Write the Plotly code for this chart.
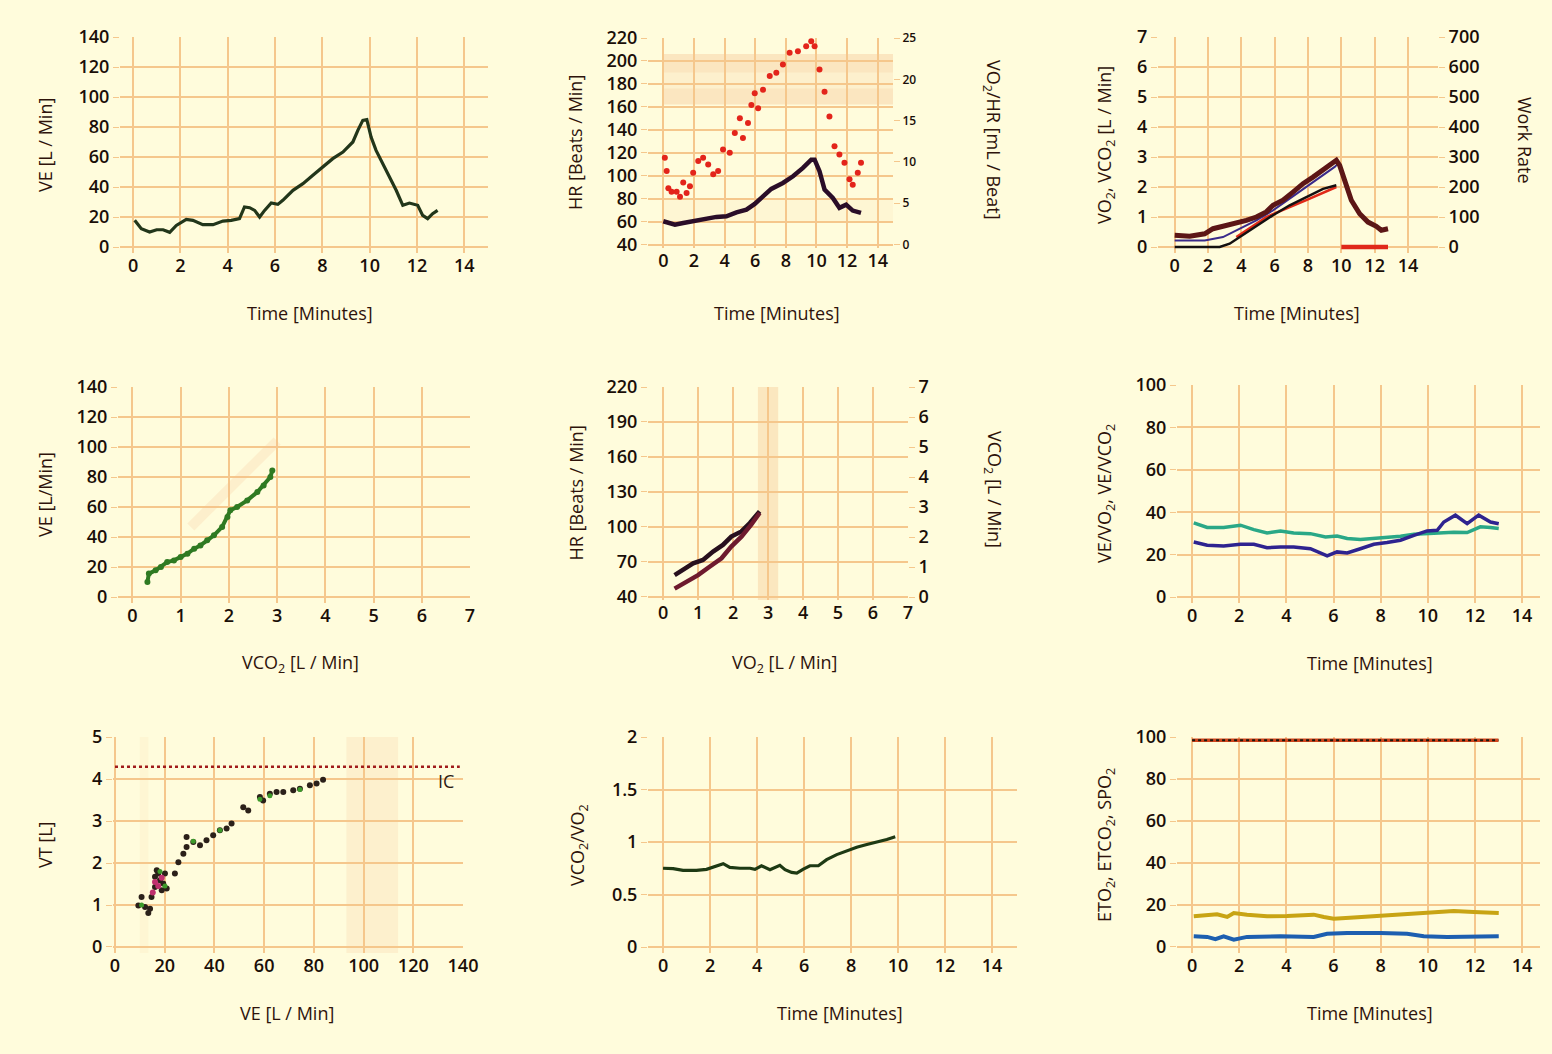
import plotly.graph_objects as go

W, H = 1552, 1054
BG = "#fffcdc"
GRID = "#f5c78c"
TICK = "#1a0e08"
TITLE = "#2e130b"
FONT = "Open Sans, Noto Sans, sans-serif"
TICK_SIZE = 18
TITLE_SIZE = 18

# ---------------- data ----------------
# Panel 1: VE vs time
ve_t = [0.07, 0.35, 0.7, 1.0, 1.27, 1.55, 1.83, 2.25, 2.53, 2.95, 3.38, 3.8, 4.15, 4.5, 4.71, 4.93, 5.14,
        5.35, 5.56, 5.84, 6.12, 6.33, 6.76, 7.18, 7.6, 8.02, 8.44, 8.87, 9.29, 9.5, 9.71, 9.88, 10.06,
        10.27, 10.55, 10.83, 11.12, 11.4, 11.68, 12.03, 12.24, 12.45, 12.66, 12.87]
ve_v = [17.8, 12.2, 10, 11.5, 11.5, 9.8, 14.4, 18.4, 17.8, 14.9, 14.9, 17.3, 17.8, 18.9, 26.7, 26.2, 24.4,
        20, 24.4, 29.3, 28.4, 31.1, 37.8, 42.2, 47.8, 53.3, 58.9, 63.3, 70, 77.8, 84.4, 84.9, 73.3,
        64.4, 55.6, 46.7, 37.8, 27.8, 29.3, 27.8, 21.1, 18.9, 22.2, 24.4]

# Panel 2: HR and VO2/HR vs time
hr_t = [0, 0.76, 1.3, 1.95, 2.6, 3.47, 4.12, 4.78, 5.43, 5.97, 6.51, 7.05, 7.81, 8.47, 9.12, 9.66, 9.88,
        10.2, 10.53, 11.07, 11.5, 11.94, 12.37, 12.91]
hr_v = [60.3, 57.4, 58.8, 60.3, 62.3, 64.1, 64.6, 68.1, 70.4, 75.4, 82, 88.5, 93.7, 99.5, 106.8, 114, 114,
        103.9, 88, 80.6, 72, 74.8, 69.6, 67.6]
o2p_t = [0.1, 0.22, 0.33, 0.54, 0.87, 1.09, 1.3, 1.52, 1.74, 1.95, 2.28, 2.6, 2.93, 3.26, 3.58, 3.9, 4.34,
         4.67, 5.0, 5.2, 5.53, 5.75, 5.97, 6.19, 6.51, 6.95, 7.38, 7.81, 8.25, 8.79, 9.33, 9.66, 9.88,
         10.2, 10.53, 10.85, 11.18, 11.5, 11.83, 12.16, 12.37, 12.7, 12.91]
o2p_v = [10.5, 8.9, 6.8, 6.4, 6.4, 5.8, 7.5, 6.25, 7.05, 8.7, 10.1, 10.5, 9.7, 8.5, 8.9, 11.5, 11.1,
         13.5, 15.3, 12.9, 14.7, 16.9, 18.3, 16.5, 18.75, 20.4, 20.8, 21.8, 23.2, 23.4, 24.0, 24.6, 24.0,
         21.2, 18.5, 15.5, 11.9, 10.9, 9.9, 7.9, 7.25, 8.7, 9.9]

# Panel 3: VO2, VCO2, work rate vs time
vo2_t = [0, 0.9, 1.8, 2.3, 2.9, 3.7, 4.3, 4.9, 5.5, 5.9, 6.5, 7.1, 7.7, 8.3, 8.9, 9.4, 9.7, 9.9, 10.2,
         10.6, 11.1, 11.6, 12.1, 12.4, 12.8]
vo2_v = [0.39, 0.36, 0.44, 0.61, 0.69, 0.78, 0.89, 1.0, 1.17, 1.39, 1.56, 1.83, 2.11, 2.33, 2.56, 2.78,
         2.89, 2.72, 2.22, 1.56, 1.11, 0.83, 0.69, 0.56, 0.61]
vco2_t = [0, 1.8, 2.9, 3.9, 4.9, 5.9, 6.9, 7.9, 8.9, 9.6, 9.8]
vco2_v = [0.22, 0.22, 0.33, 0.61, 0.89, 1.22, 1.61, 2.0, 2.39, 2.67, 2.78]
wr_t = [0, 2.7, 3.3, 3.9, 4.9, 5.9, 6.9, 7.9, 8.9, 9.7]
wr_v = [0, 0, 11, 33, 67, 106, 139, 167, 194, 206]
ref_t = [3.7, 5.5, 7.9, 9.7]
ref_v = [0.33, 1.0, 1.56, 2.0]
rec_t = [10.0, 12.8]
rec_v = [0, 0]

# Panel 4: VE vs VCO2
p4_vco2 = [0.31, 0.34, 0.48, 0.59, 0.72, 0.86, 1.0, 1.14, 1.28, 1.41, 1.55, 1.69, 1.86, 1.97, 2.03,
           2.17, 2.38, 2.59, 2.72, 2.86, 2.9]
p4_ve = [10, 15.6, 17.8, 20, 23.3, 24.4, 26.7, 28.9, 32.2, 34.4, 37.8, 41.1, 46.7, 53.3, 57.8,
         60, 64.4, 70, 74.4, 80, 84.4]
p4_ref_x = [1.21, 3.0]
p4_ref_y = [46.7, 104]

# Panel 5: HR and VCO2 vs VO2
p5_vo2 = [0.33, 0.57, 0.86, 1.14, 1.43, 1.71, 1.95, 2.24, 2.48, 2.76]
p5_hr = [58.7, 63, 68.8, 71.7, 78.9, 84.6, 91.8, 96.2, 103.4, 113.4]
p5_vo2b = [0.33, 0.67, 1.0, 1.33, 1.67, 1.95, 2.24, 2.52, 2.76]
p5_vco2 = [0.28, 0.5, 0.73, 1.01, 1.29, 1.68, 2.01, 2.41, 2.8]
p5_band = [2.71, 3.29]

# Panel 6: ventilatory equivalents vs time
veq_t1 = [0.07, 0.64, 1.34, 2.05, 2.62, 3.18, 3.75, 4.31, 5.02, 5.66, 6.15, 6.58, 7.14, 7.71, 8.27, 8.84,
          9.41, 9.97, 10.54, 11.1, 11.67, 12.23, 12.66, 13.01]
ve_vco2 = [35, 32.8, 32.8, 33.9, 31.8, 30.2, 31.2, 30.2, 29.9, 28.3, 28.8, 27.6, 27.1, 27.6, 27.9, 28.7,
           29.6, 29.9, 30.2, 30.6, 30.4, 33.1, 32.8, 32.3]
veq_t2 = [0.07, 0.64, 1.34, 2.05, 2.62, 3.18, 3.75, 4.31, 5.02, 5.45, 5.73, 6.15, 6.58, 7.14, 7.71, 8.27,
          8.84, 9.41, 9.97, 10.4, 10.68, 11.17, 11.67, 12.16, 12.66, 13.01]
ve_vo2 = [26, 24.4, 24.1, 24.9, 24.9, 23.3, 23.6, 23.6, 22.8, 20.5, 19.4, 21.3, 20.8, 22.8, 24.9, 25.7,
          26.8, 29.1, 31.2, 31.5, 35.4, 38.6, 34.6, 38.6, 35.4, 34.6]

# Panel 7: VT vs VE
vt_ve = [9.4, 10.7, 12.1, 13.4, 14.1, 14.7, 16.1, 16.1, 17.4, 18.1, 18.8, 19.4, 20.1, 20.8, 16.8, 24.1,
         25.5, 27.5, 28.8, 28.8, 31.5, 34.2, 36.8, 39.5, 42.2, 44.9, 46.9, 51.6, 53.6, 58.3, 59.6, 62.3,
         65, 67.7, 71.7, 74.4, 78.4, 81.1, 83.7]
vt_v = [0.99, 1.19, 0.95, 0.81, 0.91, 1.19, 1.43, 1.67, 1.75, 1.59, 1.35, 1.51, 1.75, 1.39, 1.83, 1.75,
        2.02, 2.22, 2.38, 2.62, 2.5, 2.42, 2.54, 2.66, 2.78, 2.82, 2.94, 3.33, 3.25, 3.57, 3.49, 3.65,
        3.69, 3.69, 3.73, 3.77, 3.85, 3.89, 3.98]
vt_green_ve = [10.7, 18.1, 20.1, 31.5, 42.2, 58.3, 62.3, 74.4]
vt_green_v = [1.0, 1.8, 1.45, 2.52, 2.78, 3.52, 3.6, 3.75]
vt_pink_ve = [16.1, 17.4, 18.8, 15.2]
vt_pink_v = [1.55, 1.45, 1.65, 1.3]
ic_value = 4.29
ic_span = [0, 138.7]
p7_band_a = [93.1, 113.9]
p7_band_b = [10.0, 13.4]

# Panel 8: RER vs time
rer_t = [0, 0.43, 0.85, 1.42, 1.85, 2.27, 2.56, 2.84, 3.27, 3.7, 3.91, 4.19, 4.55, 4.97, 5.19, 5.47, 5.69,
         5.97, 6.25, 6.61, 6.96, 7.39, 7.82, 8.24, 8.67, 9.1, 9.52, 9.88]
rer_v = [0.75, 0.746, 0.73, 0.73, 0.74, 0.774, 0.794, 0.758, 0.75, 0.75, 0.74, 0.774, 0.736, 0.778, 0.736,
         0.71, 0.704, 0.742, 0.774, 0.774, 0.832, 0.88, 0.918, 0.95, 0.976, 0.998, 1.024, 1.05]

# Panel 9: ETO2, ETCO2, SpO2 vs time
spo2_t = [0.0, 2.0, 4.0, 6.0, 8.0, 10.0, 12.0, 13.0]
spo2_v = [98.4, 98.4, 98.4, 98.4, 98.4, 98.4, 98.4, 98.4]
eto2_t = [0.07, 0.5, 1.06, 1.49, 1.77, 2.33, 3.18, 4.03, 5.16, 5.59, 6.01, 6.86, 7.71, 8.7, 9.97, 11.1,
          11.95, 13.01]
eto2_v = [14.6, 15.1, 15.6, 14.3, 16.2, 15.4, 14.6, 14.8, 15.4, 14.3, 13.5, 14, 14.6, 15.6, 16.2, 17.1,
          16.7, 16.2]
etco2_t = [0.07, 0.64, 0.99, 1.34, 1.77, 2.33, 3.75, 5.16, 5.73, 6.58, 7.99, 9.12, 9.83, 10.82, 13.01]
etco2_v = [5.1, 4.8, 3.7, 5.1, 3.5, 4.8, 5.1, 4.8, 6.3, 6.7, 6.7, 6.3, 5.1, 4.8, 5.1]

time_ticks = [0, 2, 4, 6, 8, 10, 12, 14]

# ---------------- layout helpers ----------------
layout = dict(width=W, height=H, margin=dict(l=0, r=0, t=0, b=0), paper_bgcolor=BG, plot_bgcolor=BG,
              showlegend=False, font=dict(family=FONT, size=TICK_SIZE, color=TICK))
annotations = []
shapes = []


def tfont(size=TICK_SIZE):
    return dict(size=size, color=TICK, family=FONT, weight=600)


def add_panel(n, xpx, ypx, xr, yr, xt, yt, xtitle, ytitle, tx, ty, yx):
    sfx = "" if n == 1 else str(n)
    layout["xaxis" + sfx] = dict(domain=[xpx[0] / W, xpx[1] / W], range=xr, tickvals=xt,
                                 anchor="y" + sfx, showgrid=True, gridcolor=GRID, gridwidth=1.5,
                                 zeroline=False, showline=False, ticks="", automargin=False,
                                 fixedrange=True, tickfont=tfont())
    layout["yaxis" + sfx] = dict(domain=[1 - ypx[1] / H, 1 - ypx[0] / H], range=yr, tickvals=yt,
                                 anchor="x" + sfx, showgrid=True, gridcolor=GRID, gridwidth=1.5,
                                 zeroline=False, showline=False, ticks="outside", ticklen=6,
                                 tickcolor=GRID, automargin=False, fixedrange=True,
                                 tickfont=tfont())
    annotations.append(dict(text=xtitle, xref="paper", yref="paper", x=tx / W, y=1 - ty / H,
                            showarrow=False, xanchor="center", yanchor="middle",
                            font=dict(size=TITLE_SIZE, color=TITLE, family=FONT)))
    annotations.append(dict(text=ytitle, xref="paper", yref="paper", x=yx / W,
                            y=1 - (ypx[0] + ypx[1]) / 2 / H,
                            showarrow=False, xanchor="center", yanchor="middle", textangle=-90,
                            font=dict(size=TITLE_SIZE, color=TITLE, family=FONT)))


def add_right(n, base, yr, yt, title, rx, ry, size=TICK_SIZE):
    layout["yaxis" + str(n)] = dict(overlaying="y" + str(base), side="right", anchor="x" + str(base),
                                    range=yr, tickvals=yt, showgrid=False, zeroline=False, showline=False,
                                    ticks="outside", ticklen=6, tickcolor=GRID, automargin=False,
                                    fixedrange=True, tickfont=tfont(size))
    annotations.append(dict(text=title, xref="paper", yref="paper", x=rx / W, y=1 - ry / H,
                            showarrow=False, xanchor="center", yanchor="middle", textangle=90,
                            font=dict(size=TITLE_SIZE, color=TITLE, family=FONT)))


TIME = "Time [Minutes]"
add_panel(1, (120, 488), (37, 253), [-0.55, 15.0], [-4, 140], time_ticks, list(range(0, 141, 20)),
          TIME, "VE [L / Min]", 310, 313, 45)
add_panel(2, (648, 893), (38, 248), [-1, 15], [37, 220], time_ticks, list(range(40, 221, 20)),
          TIME, "HR [Beats / Min]", 777, 313, 575)
add_right(10, 2, [-0.417, 25], [0, 5, 10, 15, 20, 25], "VO<sub>2</sub>/HR [mL / Beat]", 993, 140, size=12)
add_panel(3, (1158, 1438), (37, 253), [-1, 15.8], [-0.2, 7], time_ticks, list(range(0, 8)),
          TIME, "VO<sub>2</sub>, VCO<sub>2</sub> [L / Min]", 1297, 313, 1105)
add_right(11, 3, [-20, 700], list(range(0, 701, 100)), "Work Rate", 1525, 140)
add_panel(4, (118, 470), (387, 603), [-0.3, 7], [-4, 140], list(range(0, 8)), list(range(0, 141, 20)),
          "VCO<sub>2</sub> [L / Min]", "VE [L/Min]", 300, 663, 45)
add_panel(5, (648, 908), (387, 600), [-0.43, 7], [37.4, 220], list(range(0, 8)), list(range(40, 221, 30)),
          "VO<sub>2</sub> [L / Min]", "HR [Beats / Min]", 785, 663, 575)
add_right(12, 5, [-0.1, 7], list(range(0, 8)), "VCO<sub>2</sub> [L / Min]", 993, 490)
add_panel(6, (1177, 1540), (385, 603), [-0.64, 14.76], [-2.8, 100], time_ticks, list(range(0, 101, 20)),
          TIME, "VE/VO<sub>2</sub>, VE/VCO<sub>2</sub>", 1370, 663, 1105)
add_panel(7, (113, 463), (737, 953), [-0.8, 140], [-0.143, 5], list(range(0, 141, 20)), list(range(0, 6)),
          "VE [L / Min]", "VT [L]", 287, 1013, 45)
add_panel(8, (648, 1017), (737, 953), [-0.64, 15.06], [-0.057, 2], time_ticks, [0, 0.5, 1, 1.5, 2],
          TIME, "VCO<sub>2</sub>/VO<sub>2</sub>", 840, 1013, 578)
add_panel(9, (1177, 1540), (737, 953), [-0.64, 14.76], [-2.86, 100], time_ticks, list(range(0, 101, 20)),
          TIME, "ETO<sub>2</sub>, ETCO<sub>2</sub>, SPO<sub>2</sub>", 1370, 1013, 1105)

# shaded bands
BAND = "rgba(240,175,120,0.28)"
BAND2 = "rgba(240,175,120,0.15)"
BAND3 = "rgba(240,175,120,0.08)"
shapes += [
    dict(type="rect", xref="x2", yref="y2", x0=0, x1=15, y0=162, y1=206, fillcolor=BAND2, line_width=0, layer="below"),
    dict(type="rect", xref="x2", yref="y2", x0=0, x1=15, y0=190, y1=206, fillcolor=BAND2, line_width=0, layer="below"),
    dict(type="rect", xref="x2", yref="y2", x0=0, x1=15, y0=162, y1=176, fillcolor=BAND2, line_width=0, layer="below"),
    dict(type="rect", xref="x2", yref="y2", x0=0, x1=15, y0=60, y1=80, fillcolor=BAND3, line_width=0, layer="below"),
    dict(type="rect", xref="x5", yref="paper", x0=p5_band[0], x1=p5_band[1], y0=1 - 600 / H, y1=1 - 387 / H,
         fillcolor=BAND, line_width=0, layer="below"),
    dict(type="rect", xref="x7", yref="paper", x0=p7_band_a[0], x1=p7_band_a[1], y0=1 - 953 / H, y1=1 - 737 / H,
         fillcolor=BAND2, line_width=0, layer="below"),
    dict(type="rect", xref="x7", yref="paper", x0=p7_band_b[0], x1=p7_band_b[1], y0=1 - 953 / H, y1=1 - 737 / H,
         fillcolor=BAND3, line_width=0, layer="below"),
]
layout["shapes"] = shapes
annotations.append(dict(text="IC", xref="x7", yref="y7", x=133, y=3.95, showarrow=False,
                        font=dict(size=TITLE_SIZE, color="#2a1a14", family=FONT)))
layout["annotations"] = annotations

fig = go.Figure(layout=layout)


def line(x, y, xa, ya, color, width, mode="lines", size=5, dash=None):
    fig.add_trace(go.Scatter(x=x, y=y, xaxis=xa, yaxis=ya, mode=mode,
                             line=dict(color=color, width=width, dash=dash),
                             marker=dict(color=color, size=size), hoverinfo="skip"))


# Panel 1
line(ve_t, ve_v, "x", "y", "#22361a", 3.2)
# Panel 2
line(o2p_t, o2p_v, "x2", "y10", "#e3241b", 0, mode="markers", size=6)
line(hr_t, hr_v, "x2", "y2", "#2a0d28", 4.5)
# Panel 3
line(wr_t, wr_v, "x3", "y11", "#141010", 2.5)
line(ref_t, ref_v, "x3", "y3", "#e02a18", 2.5)
line(vco2_t, vco2_v, "x3", "y3", "#3a2a8a", 2)
line(vo2_t, vo2_v, "x3", "y3", "#5c1616", 5)
line(rec_t, rec_v, "x3", "y11", "#e0281a", 4.5)
# Panel 4
line(p4_ref_x, p4_ref_y, "x4", "y4", "rgba(245,190,140,0.2)", 10)
line(p4_vco2, p4_ve, "x4", "y4", "#2f7a22", 4, mode="lines+markers", size=6)
# Panel 5
line(p5_vo2, p5_hr, "x5", "y5", "#28101e", 4.5)
line(p5_vo2b, p5_vco2, "x5", "y12", "#6e1a2e", 4.5)
# Panel 6
line(veq_t1, ve_vco2, "x6", "y6", "#2aa887", 3.5)
line(veq_t2, ve_vo2, "x6", "y6", "#2e2390", 3.5)
# Panel 7
line(ic_span, [ic_value, ic_value], "x7", "y7", "#a01c1c", 2.5, dash="dot")
line(vt_ve, vt_v, "x7", "y7", "#2b2019", 0, mode="markers", size=6)
line(vt_green_ve, vt_green_v, "x7", "y7", "#3d9a2a", 0, mode="markers", size=5)
line(vt_pink_ve, vt_pink_v, "x7", "y7", "#c0306e", 0, mode="markers", size=6)
# Panel 8
line(rer_t, rer_v, "x8", "y8", "#1e3a14", 3.2)
# Panel 9
line(spo2_t, spo2_v, "x9", "y9", "#d2451c", 3.5)
line(spo2_t, spo2_v, "x9", "y9", "#1a1a10", 2, dash="dot")
line(eto2_t, eto2_v, "x9", "y9", "#c8a414", 4)
line(etco2_t, etco2_v, "x9", "y9", "#1d5fb0", 4)

fig.write_html("out.html", config={"displayModeBar": False},
               post_script="document.body.style.margin='0';")
